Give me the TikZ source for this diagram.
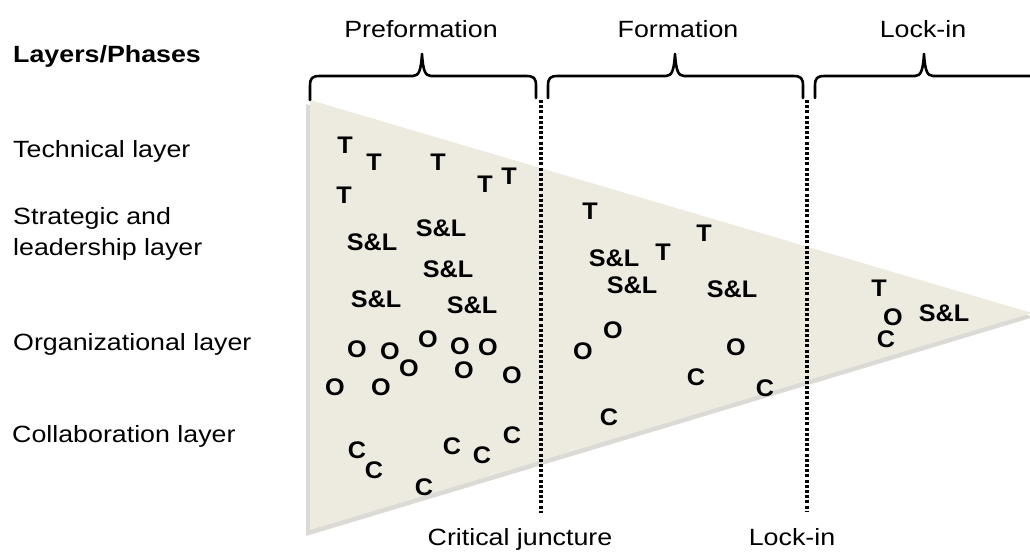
\documentclass[tikz,border=0pt]{standalone}
\usepackage{fontspec}
\newfontfamily\lblfont{Liberation Sans}[FakeStretch=1.14]
\newfontfamily\mkfont{Liberation Sans}[FakeStretch=1.05]
\definecolor{wedge}{HTML}{EDEBE0}
\definecolor{wedgeshadow}{HTML}{BDBBB2}
\begin{document}
\begin{tikzpicture}[x=1pt,y=-1pt,
  lbl/.style={font=\lblfont\fontsize{23.5}{28}\selectfont, inner sep=0pt, anchor=base west},
  toplbl/.style={font=\lblfont\fontsize{23.5}{28}\selectfont, inner sep=0pt, anchor=base},
  mk/.style={font=\mkfont\bfseries\fontsize{24}{28}\selectfont, inner sep=0pt, anchor=center},
  brace/.style={line width=2.6pt, line join=round, line cap=round},
  juncture/.style={line width=4.6pt, dash pattern=on 3pt off 2.2pt}]
\useasboundingbox (0,0) rectangle (1030,554);
% wedge with shadow
\fill[wedgeshadow, opacity=0.55] (306,104) -- (1034,317) -- (306,536) -- cycle;
\fill[wedge] (310,100) -- (1032,313) -- (310,530) -- cycle;
% junctures
\coordinate (j1t) at (541,100); \coordinate (j1b) at (541,513);
\coordinate (j2t) at (807,100); \coordinate (j2b) at (807,512);
\draw[juncture] (j1t) -- (j1b);
\draw[juncture] (j2t) -- (j2b);
% braces
\draw[brace] (310,100) -- (310,86) .. controls (310,78) and (312,76) .. (320,76) -- (413,76)
  .. controls (419,76) and (421,70) .. (422,54) .. controls (423,70) and (425,76) .. (431,76)
  -- (526,76) .. controls (534,76) and (536,78) .. (536,86) -- (536,98);
\draw[brace] (548,98) -- (548,86) .. controls (548,78) and (550,76) .. (558,76) -- (666,76)
  .. controls (672,76) and (674,70) .. (675,54) .. controls (676,70) and (678,76) .. (684,76)
  -- (793,76) .. controls (801,76) and (803,78) .. (803,86) -- (803,98);
\draw[brace] (815,98) -- (815,86) .. controls (815,78) and (817,76) .. (825,76) -- (915,76)
  .. controls (921,76) and (923,70) .. (924,54) .. controls (925,70) and (927,76) .. (933,76)
  -- (1034,76);
% phase labels
\node[toplbl] (pre) at (421,37) {Preformation};
\node[toplbl] (form) at (678,37) {Formation};
\node[toplbl] (lock) at (923,37) {Lock-in};
\node[toplbl] (crit) at (520,545) {Critical juncture};
\node[toplbl] (lockb) at (792,545) {Lock-in};
% layer labels
\node[lbl, font=\lblfont\bfseries\fontsize{23.5}{28}\selectfont] (head) at (13,62) {Layers/Phases};
\node[lbl] (tech) at (13,157) {Technical layer};
\node[lbl] (strat1) at (13,224) {Strategic and};
\node[lbl] (strat2) at (13,255) {leadership layer};
\node[lbl] (org) at (13,350) {Organizational layer};
\node[lbl] (coll) at (12,442) {Collaboration layer};
% markers: preformation
\node[mk] (t1) at (345,145) {T};
\node[mk] (t2) at (374,162) {T};
\node[mk] (t3) at (438,162) {T};
\node[mk] (t4) at (485,184) {T};
\node[mk] (t5) at (509,176) {T};
\node[mk] (t6) at (344,195) {T};
\node[mk] (s1) at (372,242) {S\&L};
\node[mk] (s2) at (441,228) {S\&L};
\node[mk] (s3) at (448,269) {S\&L};
\node[mk] (s4) at (376,299) {S\&L};
\node[mk] (s5) at (472,305) {S\&L};
\node[mk] (o1) at (357,349) {O};
\node[mk] (o2) at (390,351) {O};
\node[mk] (o3) at (428,339) {O};
\node[mk] (o4) at (409,368) {O};
\node[mk] (o5) at (460,346) {O};
\node[mk] (o6) at (488,347) {O};
\node[mk] (o7) at (464,370) {O};
\node[mk] (o8) at (335,387) {O};
\node[mk] (o9) at (381,387) {O};
\node[mk] (o10) at (512,375) {O};
\node[mk] (c1) at (357,450) {C};
\node[mk] (c2) at (374,470) {C};
\node[mk] (c3) at (424,487) {C};
\node[mk] (c4) at (452,446) {C};
\node[mk] (c5) at (482,455) {C};
\node[mk] (c6) at (512,435) {C};
% markers: formation
\node[mk] (t7) at (590,211) {T};
\node[mk] (t8) at (704,233) {T};
\node[mk] (t9) at (663,252) {T};
\node[mk] (s6) at (614,258) {S\&L};
\node[mk] (s7) at (632,285) {S\&L};
\node[mk] (s8) at (732,289) {S\&L};
\node[mk] (o11) at (613,330) {O};
\node[mk] (o12) at (583,351) {O};
\node[mk] (o13) at (736,347) {O};
\node[mk] (c7) at (696,377) {C};
\node[mk] (c8) at (765,388) {C};
\node[mk] (c9) at (609,417) {C};
% markers: lock-in
\node[mk] (t10) at (879,288) {T};
\node[mk] (o14) at (893,317) {O};
\node[mk] (c10) at (886,339) {C};
\node[mk] (s9) at (944,313) {S\&L};
\end{tikzpicture}
\end{document}
